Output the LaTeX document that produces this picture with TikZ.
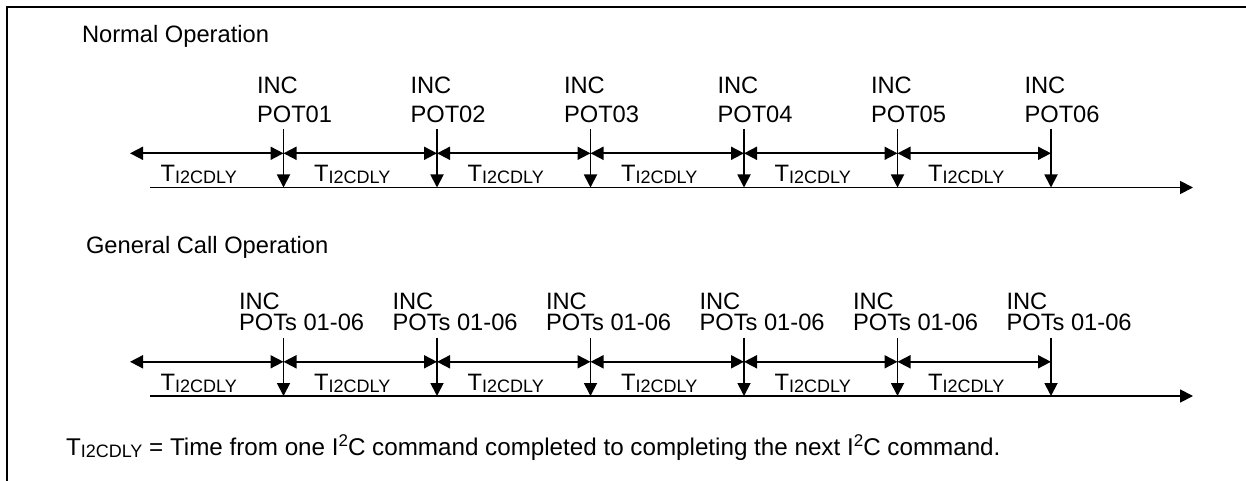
\documentclass[tikz,border=0pt]{standalone}
\usepackage{fontspec}
\setmainfont{Liberation Sans}
\usetikzlibrary{arrows.meta}
\newcommand{\Tdly}{T\raisebox{-2pt}{\fontsize{18}{20}\selectfont I2CDLY}}
\newcommand{\sqr}{\raisebox{8.5pt}{\fontsize{17}{18}\selectfont 2}}
\newcommand{\twol}[3]{\begin{tabular}[b]{@{}l@{}}#1\\[#3]#2\end{tabular}}
\begin{document}
\begin{tikzpicture}[x=1pt,y=-1pt,
  >={Triangle[length=13pt,width=13pt]},
  ln/.style={line width=1.8pt},
  lbl/.style={inner sep=0pt, outer sep=0pt, font=\fontsize{23.7}{27}\selectfont},
  frame/.style={line width=2.5pt}]
\useasboundingbox (0,0) rectangle (1246,481);
% frame
\coordinate (fb) at (7,481);
\coordinate (fc) at (7,7);
\coordinate (fr) at (1246,7);
\draw[frame] (fb) -- (fc) -- (fr);

% ---------- Normal operation ----------
\node[lbl,anchor=base west] (ntitle) at (82,42.7) {Normal Operation};
\coordinate (na0) at (130,153.3);
\foreach \i/\x in {1/283.5,2/437,3/590.5,4/744,5/897.5,6/1051}{
  \coordinate (nt\i) at (\x,129);
  \coordinate (nb\i) at (\x,187.5);
  \coordinate (na\i) at (\x,153.3);
  \node[lbl,anchor=base west] (npot\i) at (\x-26.5,122.7) {\twol{INC}{POT0\i}{2.4pt}};
  \draw[ln,->] (nt\i) -- (nb\i);
}
\foreach \i/\j/\a/\b in {0/1/130/283.5,1/2/283.5/437,2/3/437/590.5,3/4/590.5/744,4/5/744/897.5,5/6/897.5/1051}{
  \draw[ln,<->] (na\i) -- (na\j);
  \node[lbl,anchor=base] (nl\j) at ({(\a+\b)/2-8},181.7) {\Tdly};
}
\coordinate (ns) at (150,187.5);
\coordinate (ne) at (1193,187.5);
\draw[ln,->] (ns) -- (ne);

% ---------- General call operation ----------
\node[lbl,anchor=base west] (gtitle) at (86,253.3) {General Call Operation};
\coordinate (ga0) at (130,361.8);
\foreach \i/\x in {1/283.5,2/437,3/590.5,4/744,5/897.5,6/1051}{
  \coordinate (gt\i) at (\x,337.5);
  \coordinate (gb\i) at (\x,396);
  \coordinate (ga\i) at (\x,361.8);
  \node[lbl,anchor=base west] (gpot\i) at (\x-44.5,330) {\twol{INC}{POTs 01-06}{-6pt}};
  \draw[ln,->] (gt\i) -- (gb\i);
}
\foreach \i/\j/\a/\b in {0/1/130/283.5,1/2/283.5/437,2/3/437/590.5,3/4/590.5/744,4/5/744/897.5,5/6/897.5/1051}{
  \draw[ln,<->] (ga\i) -- (ga\j);
  \node[lbl,anchor=base] (gl\j) at ({(\a+\b)/2-8},390.2) {\Tdly};
}
\coordinate (gs) at (150,396);
\coordinate (ge) at (1193,396);
\draw[ln,->] (gs) -- (ge);

% ---------- footnote ----------
\node[lbl,anchor=base west,font=\fontsize{24.2}{28}\selectfont] (note) at (66,455)
  {\Tdly\ = Time from one I\sqr C command completed to completing the next I\sqr C command.};
\end{tikzpicture}
\end{document}
